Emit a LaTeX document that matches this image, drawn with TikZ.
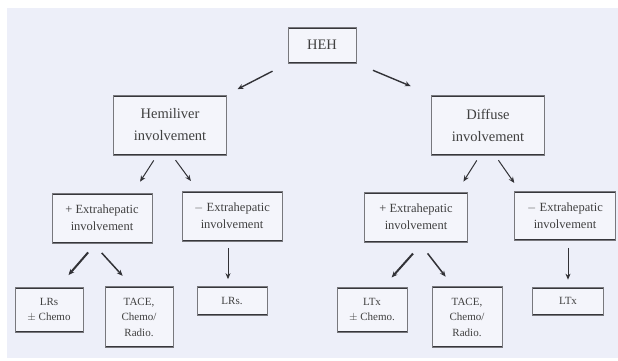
\documentclass[tikz,border=0pt]{standalone}
\usepackage{fontspec}
\setmainfont{Liberation Serif}
\usepackage{tikz}
\usetikzlibrary{arrows.meta, positioning}
\definecolor{panel}{RGB}{237,239,249}
\definecolor{boxline}{RGB}{120,120,125}
\definecolor{boxdark}{RGB}{55,55,60}
\definecolor{arrowc}{RGB}{50,50,55}
\tikzset{
  box/.style={rectangle, draw=boxline, fill=panel!60!white, line width=0.7pt,
    align=center, inner sep=0pt, text=black!75,
    path picture={\draw[boxdark, line width=3pt]
      (path picture bounding box.north west) -- (path picture bounding box.north east)
      (path picture bounding box.south west) -- (path picture bounding box.south east);}},
  bigbox/.style={box, font=\fontsize{14.5}{22}\selectfont},
  midbox/.style={box, font=\fontsize{12.5}{17}\selectfont},
  smallbox/.style={box, font=\fontsize{11}{15.5}\selectfont},
  arrow/.style={-{Stealth[length=6pt, width=5pt]}, line width=1pt, color=arrowc},
  boldarrow/.style={arrow, line width=2pt},
  thinarrow/.style={arrow, line width=0.8pt}
}
\begin{document}
\begin{tikzpicture}[x=1pt, y=-1pt]
  \useasboundingbox (0,0) rectangle (618,360);
  \fill[white] (0,0) rectangle (618,360);
  \fill[panel] (7,8) rectangle (618,358);

  % Nodes
  \node[bigbox, minimum width=68pt, minimum height=36pt] (heh) at (322,45) {HEH};
  \node[bigbox, minimum width=113pt, minimum height=60pt] (hemi) at (170,125) {Hemiliver\\involvement};
  \node[bigbox, minimum width=113pt, minimum height=60pt] (diffuse) at (488,125) {Diffuse\\involvement};

  \node[midbox, minimum width=100pt, minimum height=50pt] (plusL) at (102,218) {+ Extrahepatic\\involvement};
  \node[midbox, minimum width=100pt, minimum height=50pt] (minusL) at (232,216) {$-$ Extrahepatic\\involvement};
  \node[midbox, minimum width=103pt, minimum height=50pt] (plusR) at (416,217) {+ Extrahepatic\\involvement};
  \node[midbox, minimum width=101pt, minimum height=49pt] (minusR) at (565,216) {$-$ Extrahepatic\\involvement};

  \node[smallbox, minimum width=68pt, minimum height=45pt] (lrsChemo) at (49,310) {LRs\\$\pm$ Chemo};
  \node[smallbox, minimum width=68pt, minimum height=61pt] (taceL) at (139,317) {TACE,\\Chemo/\\Radio.};
  \node[smallbox, minimum width=70pt, minimum height=29pt] (lrs) at (232,301) {LRs.};
  \node[smallbox, minimum width=70pt, minimum height=45pt] (ltxChemo) at (372,310) {LTx\\$\pm$ Chemo.};
  \node[smallbox, minimum width=70pt, minimum height=61pt] (taceR) at (467,317) {TACE,\\Chemo/\\Radio.};
  \node[smallbox, minimum width=71pt, minimum height=28pt] (ltx) at (568,301) {LTx};

  % Arrows
  \draw[arrow, line width=1.4pt, shorten <=17pt, shorten >=12pt] (heh.south west) -- (hemi.north east);
  \draw[arrow, line width=1.4pt, shorten <=18pt, shorten >=22pt] (heh.south east) -- (diffuse.north west);

  \draw[arrow, shorten <=6pt, shorten >=13pt] ([xshift=-13pt]hemi.south) -- ([xshift=31pt]plusL.north);
  \draw[arrow, shorten <=6pt, shorten >=12pt] ([xshift=2pt]hemi.south) -- ([xshift=-34pt]minusL.north);
  \draw[arrow, shorten <=6pt, shorten >=12pt] ([xshift=-8pt]diffuse.south) -- ([xshift=41pt]plusR.north);
  \draw[arrow, shorten <=6pt, shorten >=10pt] ([xshift=7pt]diffuse.south) -- ([xshift=-45pt]minusR.north);

  \draw[boldarrow, shorten <=12pt, shorten >=16pt] ([xshift=-6pt]plusL.south) -- ([xshift=9pt]lrsChemo.north);
  \draw[boldarrow, line width=1.5pt, shorten <=13pt, shorten >=14pt] ([xshift=-9pt]plusL.south) -- ([xshift=-7pt]taceL.north);
  \draw[thinarrow, shorten <=7pt, shorten >=7pt] ([xshift=-4pt]minusL.south) -- ([xshift=-4pt]lrs.north);

  \draw[boldarrow, shorten <=15pt, shorten >=13pt] ([xshift=7pt]plusR.south) -- ([xshift=11pt]ltxChemo.north);
  \draw[boldarrow, line width=1.5pt, shorten <=14pt, shorten >=12pt] ([xshift=3pt]plusR.south) -- ([xshift=-14pt]taceR.north);
  \draw[thinarrow, shorten <=7pt, shorten >=7pt] ([xshift=3pt]minusR.south) -- (ltx.north);

\end{tikzpicture}
\end{document}
